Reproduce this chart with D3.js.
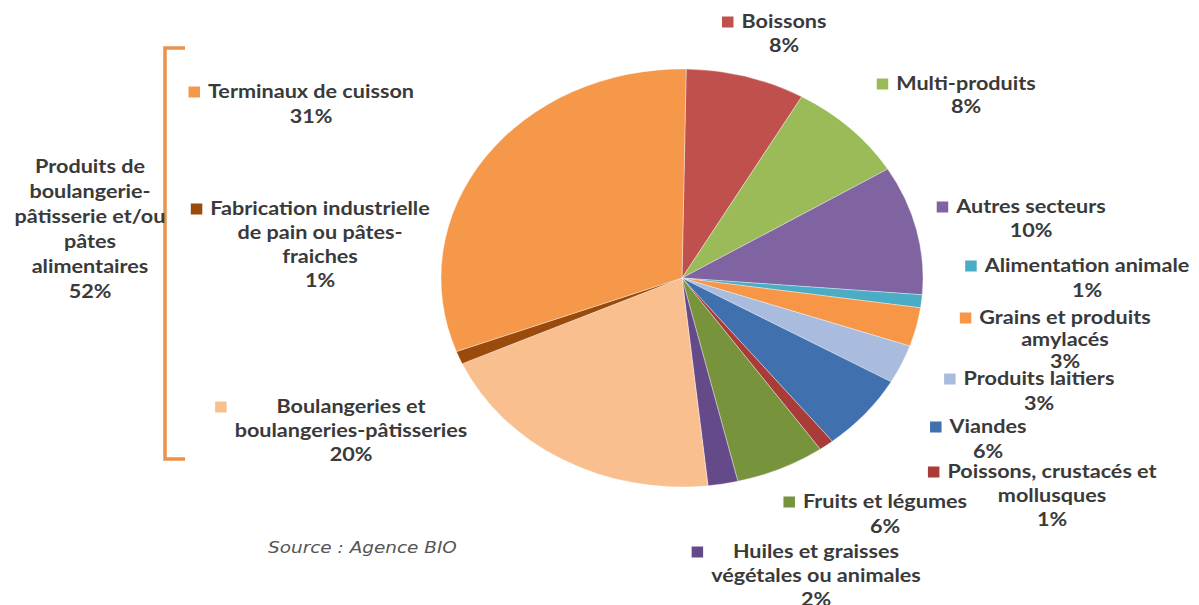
<!DOCTYPE html>
<html>
<head>
<meta charset="utf-8">
<script src="https://cdn.jsdelivr.net/npm/d3@7"></script>
<style>
  body { margin: 0; background: #fff; }
  text { font-family: Lato, "Open Sans", sans-serif; font-weight: 700; fill: #3a3a3a; }
</style>
</head>
<body>
<svg id="chart" width="1199" height="605"></svg>
<script>
// slices, clockwise from 12 o'clock
const categories = [
  'Boissons',
  'Multi-produits',
  'Autres secteurs',
  'Alimentation animale',
  'Grains et produits|amylacés',
  'Produits laitiers',
  'Viandes',
  'Poissons, crustacés et|mollusques',
  'Fruits et légumes',
  'Huiles et graisses|végétales ou animales',
  'Boulangeries et|boulangeries-pâtisseries',
  'Fabrication industrielle|de pain ou pâtes-|fraiches',
  'Terminaux de cuisson',
];
const values = [8, 8, 10, 1, 3, 3, 6, 1, 6, 2, 20, 1, 31];
const colors = [
  '#C0504D', '#9BBB59', '#8064A2', '#4BACC6', '#F79646', '#A9BCDE', '#4070AE',
  '#A93B38', '#77933C', '#654A8A', '#F9BF8F', '#9A4A0A', '#F5984A',
];
const groupLines = ['Produits de', 'boulangerie-', 'pâtisserie et/ou', 'pâtes', 'alimentaires', '52%'];
const source = 'Source : Agence BIO';

// label box centre x / first baseline y / line step
const labelAt = [
  [784, 28, 24], [966, 90, 23], [1031, 213, 24], [1087, 272, 25], [1065, 324, 22],
  [1039, 385, 25], [988, 433, 25], [1052, 478, 24], [885, 508, 25], [816, 558, 24],
  [351, 413, 24], [320, 215, 24], [311, 98, 25],
];

const svg = d3.select('#chart');
const cx = 682, cy = 278, ry = 209, rx = 241;
const sx = rx / ry; // the original image is stretched horizontally
const tx = 1.2;     // text stretch

const pie = d3.pie().sort(null).value((d) => d)
  .startAngle(Math.PI / 180).endAngle(2 * Math.PI + Math.PI / 180);
const arc = d3.arc().innerRadius(0).outerRadius(ry);

svg.append('g')
  .attr('transform', `translate(${cx},${cy}) scale(${sx},1)`)
  .selectAll('path')
  .data(pie(values))
  .join('path')
  .attr('d', arc)
  .attr('fill', (d, i) => colors[i])
  .attr('stroke', '#fff')
  .attr('stroke-opacity', 0.6)
  .attr('stroke-width', 0.6)
  .attr('vector-effect', 'non-scaling-stroke');

// legend-style labels
const labels = svg.append('g').selectAll('g')
  .data(categories.map((c, i) => ({
    lines: c.split('|').concat([`${values[i]}%`]),
    color: colors[i],
    pos: labelAt[i],
  })))
  .join('g')
  .attr('transform', (d) => `translate(${d.pos[0]},${d.pos[1]}) scale(${tx},1)`);

labels.each(function (d) {
  const g = d3.select(this);
  const t = g.selectAll('text').data(d.lines).join('text')
    .attr('text-anchor', 'middle')
    .attr('y', (_, j) => j * d.pos[2])
    .style('font-size', '18px')
    .text((s) => s);
  const w = d3.max(t.nodes().slice(0, -1), (n) => n.getComputedTextLength());
  const k = 11.5 / tx;
  g.append('rect')
    .attr('x', -w / 2 - 8 / tx - k)
    .attr('y', -11.5)
    .attr('width', k)
    .attr('height', 11)
    .attr('fill', d.color);
});

// group bracket + label
svg.append('path')
  .attr('d', d3.line()([[185, 48], [165, 48], [165, 459], [185, 459]]))
  .attr('fill', 'none')
  .attr('stroke', '#EA914B')
  .attr('stroke-width', 3.5);

svg.append('g')
  .attr('transform', `translate(90,173) scale(${tx},1)`)
  .selectAll('text')
  .data(groupLines)
  .join('text')
  .attr('text-anchor', 'middle')
  .attr('y', (_, j) => j * 25)
  .style('font-size', '18px')
  .text((s) => s);

svg.append('text')
  .attr('transform', `translate(268,553) scale(${sx},1)`)
  .style('font-family', '"DejaVu Sans", Verdana, sans-serif')
  .style('font-weight', 400)
  .style('font-style', 'italic')
  .style('font-size', '16px')
  .style('fill', '#555')
  .text(source);
</script>
</body>
</html>
